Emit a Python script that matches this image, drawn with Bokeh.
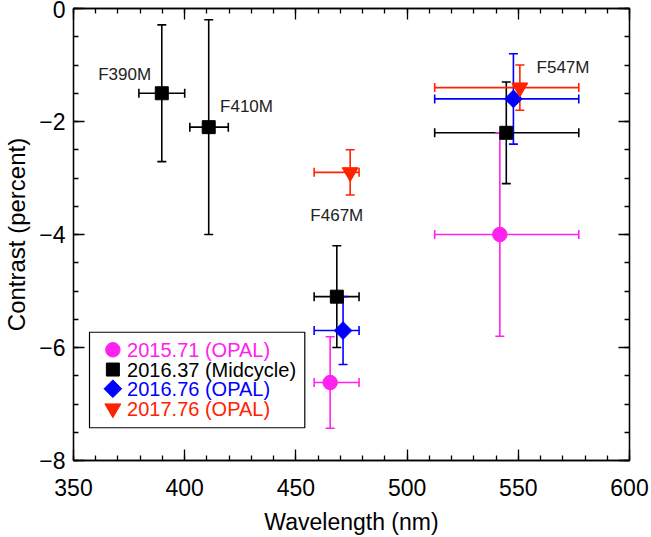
from bokeh.plotting import figure
from bokeh.models import Whisker, TeeHead, ColumnDataSource, LinearAxis, FixedTicker, Range1d
from bokeh.embed import file_html
from bokeh.resources import INLINE
from bokeh.core.properties import value
import math

FONT = "Liberation Sans"

# Filter bandwidths (horizontal bars), nm
filter_names = ["F390M", "F410M", "F467M", "F547M"]
filter_lo = [379.4, 402.3, 458.2, 512.4]
filter_hi = [400.0, 419.6, 478.4, 577.2]

# Series (x = plotted wavelength, y = contrast %, yerr = symmetric error)
s2015_filters = ["F467M", "F547M"]
s2015_x = [465.4, 541.7]
s2015_y = [-6.62, -4.0]
s2015_err = [0.81, 1.8]

s2016a_filters = ["F390M", "F410M", "F467M", "F547M"]
s2016a_x = [389.7, 410.8, 468.4, 544.6]
s2016a_y = [-1.5, -2.1, -5.1, -2.2]
s2016a_err = [1.21, 1.9, 0.9, 0.9]

s2016b_filters = ["F467M", "F547M"]
s2016b_x = [471.2, 547.8]
s2016b_y = [-5.7, -1.6]
s2016b_err = [0.6, 0.8]

s2017_filters = ["F467M", "F547M"]
s2017_x = [474.4, 550.7]
s2017_y = [-2.9, -1.4]
s2017_err = [0.4, 0.4]

labels = ["2015.71 (OPAL)", "2016.37 (Midcycle)", "2016.76 (OPAL)", "2017.76 (OPAL)"]
colors = ["#ff22ee", "#000000", "#0000ff", "#ff2200"]

# filter label annotations
ann_text = ["F390M", "F410M", "F467M", "F547M"]
ann_x = [373.0, 427.8, 468.4, 570.1]
ann_y = [-1.16, -1.73, -3.67, -1.04]

x_ticks = [350, 400, 450, 500, 550, 600]
x_minor = list(range(350, 601, 10))
y_ticks = [-8, -6, -4, -2, 0]
y_minor = [v / 2 for v in range(-16, 1)]

# legend layout (data units of the plot)
leg_left, leg_right, leg_top, leg_bottom = 357.2, 454.0, -5.73, -7.42
leg_key_x, leg_text_x = 367.7, 374.1
leg_row_y = [-6.04, -6.39, -6.73, -7.08]

p = figure(width=651, height=537, x_range=Range1d(350, 600), y_range=Range1d(-8, 0),
           output_backend="svg", toolbar_location=None,
           min_border_left=72, min_border_right=22, min_border_top=8, min_border_bottom=74)
p.xgrid.visible = False
p.ygrid.visible = False
p.outline_line_color = "black"
p.outline_line_width = 1.3
p.background_fill_color = "white"
p.border_fill_color = "white"


def style_axis(ax, ticks, minor, show_labels=True):
    ax.ticker = FixedTicker(ticks=ticks, minor_ticks=minor)
    ax.major_tick_in = 11
    ax.major_tick_out = 0
    ax.minor_tick_in = 5
    ax.minor_tick_out = 0
    ax.axis_line_color = "black"
    ax.axis_line_width = 1.3
    ax.major_tick_line_width = 1.3
    ax.minor_tick_line_width = 1.3
    ax.major_label_text_font = FONT
    if show_labels:
        ax.major_label_text_font_size = "23px"
        ax.major_label_text_color = "black"
    else:
        ax.major_label_text_font_size = "0px"
        ax.major_label_text_color = None
        ax.major_label_text_alpha = 0
        ax.major_label_standoff = 0


style_axis(p.xaxis[0], x_ticks, x_minor)
style_axis(p.yaxis[0], y_ticks, y_minor)
p.xaxis[0].major_label_standoff = 18
p.yaxis[0].major_label_standoff = 8
p.xaxis[0].axis_label = "Wavelength (nm)"
p.yaxis[0].axis_label = "Contrast (percent)"
for ax, fs in ((p.xaxis[0], "23px"), (p.yaxis[0], "24px")):
    ax.axis_label_text_font = FONT
    ax.axis_label_text_font_size = fs
    ax.axis_label_text_font_style = "normal"
    ax.axis_label_text_color = "black"
p.xaxis[0].axis_label_standoff = 10
p.yaxis[0].axis_label_standoff = 6

top = LinearAxis()
style_axis(top, x_ticks, x_minor, show_labels=False)
p.add_layout(top, "above")
right = LinearAxis()
style_axis(right, y_ticks, y_minor, show_labels=False)
p.add_layout(right, "right")

# legend frame (drawn below data glyphs)
p.quad(left=[leg_left], right=[leg_right], top=[leg_top], bottom=[leg_bottom],
       fill_color="white", line_color="black", line_width=1.2)

series = [
    (s2015_filters, s2015_x, s2015_y, s2015_err, "circle", 14.5, 0),
    (s2016a_filters, s2016a_x, s2016a_y, s2016a_err, "square", 13, 0),
    (s2016b_filters, s2016b_x, s2016b_y, s2016b_err, "square", 12.5, math.pi / 4),
    (s2017_filters, s2017_x, s2017_y, s2017_err, "inverted_triangle", 16, 0),
]
draw_order = [1, 0, 2, 3]
for i in draw_order:
    flt, xs, ys, errs, marker, size, ang = series[i]
    c = colors[i]
    lo = [filter_lo[filter_names.index(f)] for f in flt]
    hi = [filter_hi[filter_names.index(f)] for f in flt]
    src = ColumnDataSource(dict(x=xs, y=ys, ylo=[y - e for y, e in zip(ys, errs)],
                                yhi=[y + e for y, e in zip(ys, errs)], xlo=lo, xhi=hi))
    for dim, base, up, low in (("height", "x", "yhi", "ylo"), ("width", "y", "xhi", "xlo")):
        p.add_layout(Whisker(base=base, upper=up, lower=low, dimension=dim, source=src,
                             line_color=c, line_width=1.6,
                             upper_head=TeeHead(size=9, line_color=c, line_width=1.6),
                             lower_head=TeeHead(size=9, line_color=c, line_width=1.6)))
    p.scatter("x", "y", source=src, marker=marker, size=size, angle=ang,
              fill_color=c, line_color=c, line_width=1)
    # legend key and text
    p.scatter(x=[leg_key_x], y=[leg_row_y[i]], marker=marker, size=size, angle=ang,
              fill_color=c, line_color=c, line_width=1)
    p.text(x=[leg_text_x], y=[leg_row_y[i]], text=[labels[i]], text_font=value(FONT),
           text_font_size="20px", text_align="left", text_baseline="middle",
           text_color=c)

p.text(x=ann_x, y=ann_y, text=ann_text, text_font=value(FONT), text_font_size="17px",
       text_align="center", text_baseline="middle", text_color="#222222")

open("out.html", "w").write(file_html(p, INLINE))
